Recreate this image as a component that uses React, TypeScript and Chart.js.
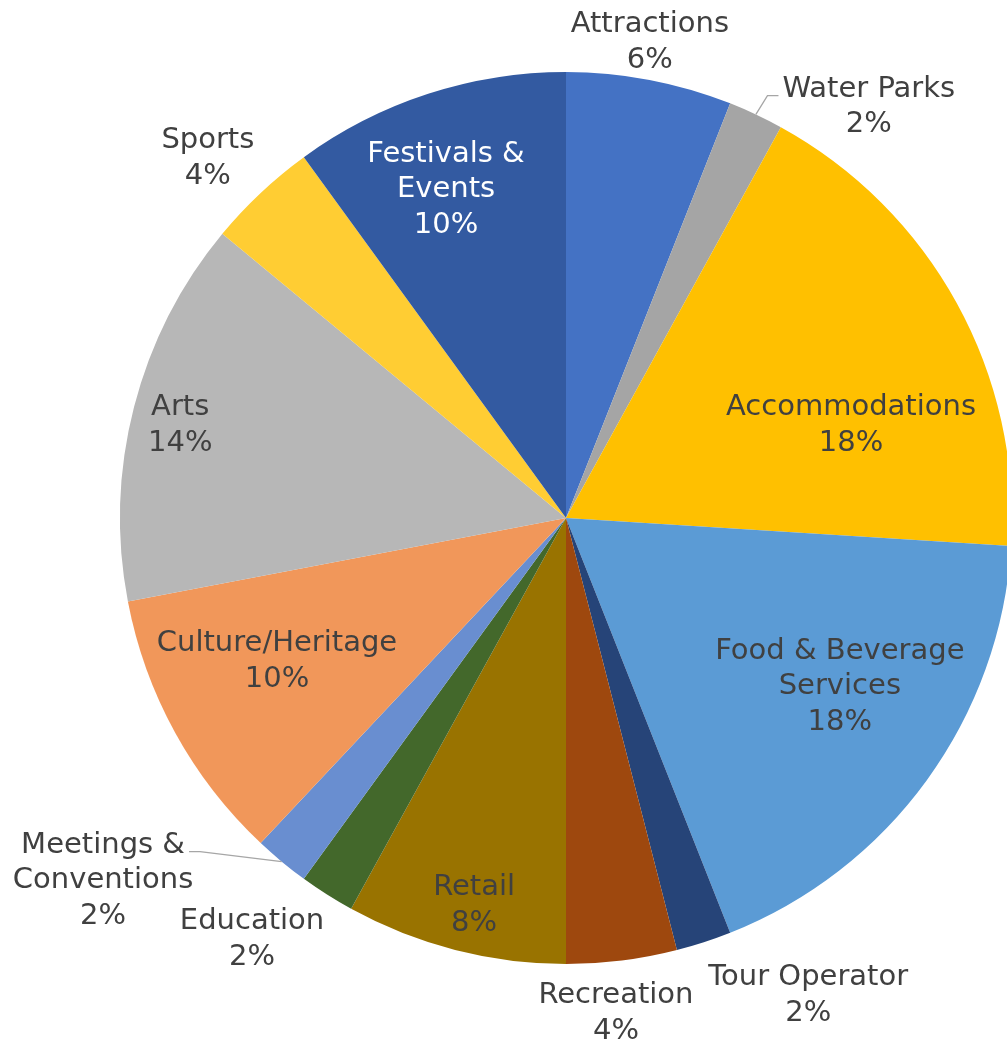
import React, { useEffect, useRef } from "react";
import { Chart, registerables } from "chart.js";

Chart.register(...registerables);

const categories = [
  "Attractions",
  "Water Parks",
  "Accommodations",
  "Food & Beverage Services",
  "Tour Operator",
  "Recreation",
  "Retail",
  "Education",
  "Meetings & Conventions",
  "Culture/Heritage",
  "Arts",
  "Sports",
  "Festivals & Events",
];

const shares = [6, 2, 18, 18, 2, 4, 8, 2, 2, 10, 14, 4, 10];

const labelLines = [
  ["Attractions"],
  ["Water Parks"],
  ["Accommodations"],
  ["Food & Beverage", "Services"],
  ["Tour Operator"],
  ["Recreation"],
  ["Retail"],
  ["Education"],
  ["Meetings &", "Conventions"],
  ["Culture/Heritage"],
  ["Arts"],
  ["Sports"],
  ["Festivals &", "Events"],
];

const sliceColors = [
  "#4472C4",
  "#A5A5A5",
  "#FFC000",
  "#5B9BD5",
  "#264478",
  "#9E480E",
  "#997300",
  "#43682B",
  "#698ED0",
  "#F1975A",
  "#B7B7B7",
  "#FFCD33",
  "#335AA1",
];

// label block centres, as fractions of the pie radius from the pie centre
const labelAnchors: [number, number][] = [
  [0.188, -1.072],
  [0.679, -0.928],
  [0.639, -0.213],
  [0.614, 0.372],
  [0.543, 1.065],
  [0.112, 1.105],
  [-0.206, 0.863],
  [-0.704, 0.939],
  [-1.038, 0.807],
  [-0.648, 0.316],
  [-0.865, -0.213],
  [-0.803, -0.812],
  [-0.269, -0.742],
];

const hasLeader = [false, true, false, false, false, false, false, false, true, false, false, false, false];

const FONT_SIZE = 29;
const LINE_H = 35.5;
const TEXT_COLOR = "#404040";

const labelPlugin = {
  id: "sliceLabels",
  afterDatasetsDraw(chart: any) {
    const ctx = chart.ctx as CanvasRenderingContext2D;
    const meta = chart.getDatasetMeta(0);
    const first: any = meta.data[0];
    const cx = first.x;
    const cy = first.y;
    const r = first.outerRadius;
    const capH = FONT_SIZE * 0.705;
    ctx.save();
    ctx.font = `${FONT_SIZE}px "DejaVu Sans", Verdana, sans-serif`;
    ctx.textAlign = "center";
    ctx.textBaseline = "alphabetic";
    meta.data.forEach((arc: any, i: number) => {
      const lines = [...labelLines[i], `${shares[i]}%`];
      const [fx, fy] = labelAnchors[i];
      const lx = cx + fx * r;
      const ly = cy + fy * r;
      const n = lines.length;
      ctx.fillStyle = i === 12 ? "#FFFFFF" : TEXT_COLOR;
      lines.forEach((t, j) => {
        const y = ly + (j - (n - 1) / 2) * LINE_H + capH / 2;
        ctx.fillText(t, lx, y);
      });
      if (hasLeader[i]) {
        const mid = (arc.startAngle + arc.endAngle) / 2;
        const ex = cx + Math.cos(mid) * r;
        const ey = cy + Math.sin(mid) * r;
        const side = lx > ex ? 1 : -1;
        const w1 = ctx.measureText(lines[0]).width;
        const y1 = ly - ((n - 1) / 2) * LINE_H + capH / 2 - 1;
        const endX = lx - side * (w1 / 2 + 4);
        const elbowX = endX - side * 11;
        ctx.strokeStyle = "#A6A6A6";
        ctx.lineWidth = 1.3;
        ctx.beginPath();
        ctx.moveTo(ex, ey);
        ctx.lineTo(elbowX, y1);
        ctx.lineTo(endX, y1);
        ctx.stroke();
      }
    });
    ctx.restore();
  },
};

export default function App() {
  const ref = useRef<HTMLCanvasElement | null>(null);

  useEffect(() => {
    document.body.style.margin = "0";
    if (!ref.current) return;
    const chart = new Chart(ref.current, {
      type: "pie",
      data: {
        labels: categories,
        datasets: [
          {
            data: shares,
            backgroundColor: sliceColors,
            borderColor: sliceColors,
            borderWidth: 0,
          },
        ],
      },
      options: {
        responsive: false,
        animation: false,
        devicePixelRatio: 1,
        layout: { padding: { left: 120, right: 88, top: 72, bottom: 77 } },
        plugins: {
          legend: { display: false },
          tooltip: { enabled: false },
        },
      },
      plugins: [labelPlugin],
    });
    return () => chart.destroy();
  }, []);

  return (
    <div
      style={{
        position: "fixed",
        left: 0,
        top: 0,
        width: 1007,
        height: 1041,
        overflow: "hidden",
        background: "#FFFFFF",
      }}
    >
      <canvas
        ref={ref}
        width={1100}
        height={1041}
        style={{ display: "block", width: 1100, height: 1041 }}
      />
    </div>
  );
}
